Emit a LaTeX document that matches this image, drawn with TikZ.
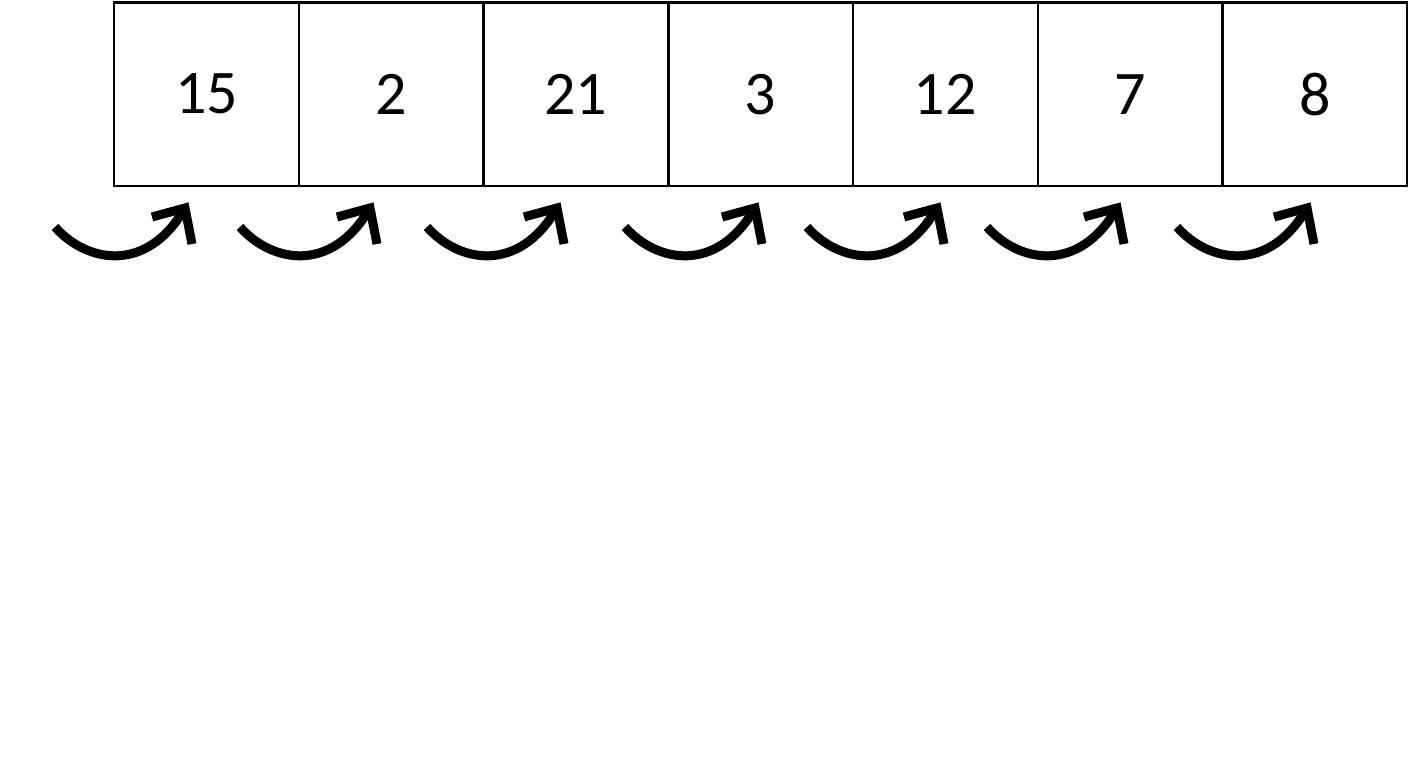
\documentclass[tikz,border=0pt]{standalone}
\usepackage{fontspec}
\setmainfont{Carlito}
\usetikzlibrary{calc}
\begin{document}
\begin{tikzpicture}[x=1pt,y=-1pt,
  cell/.style={draw=black,line width=2.4pt,minimum width=184.7pt,minimum height=183pt,inner sep=0pt,anchor=north west,font=\fontsize{62}{70}\selectfont},
  curv/.style={line width=9pt,black},
  wing/.style={line width=9pt,black,line join=miter,miter limit=10}]
\useasboundingbox (0,0) rectangle (1408,768);
\fill[white] (0,0) rectangle (1408,768);
\foreach \v [count=\i] in {15,2,21,3,12,7,8}{
  \node[cell] (c\i) at ({113+(\i-1)*184.7},1.5) {\v};
}
\foreach \t [count=\i] in {55,240,427,625,807,987,1177}{
  \coordinate (a\i) at (\t,227);
  \coordinate (b\i) at (\t+130,208);
  \draw[curv] (a\i) .. controls ++(32,36) and ++(-38,66) .. (b\i);
  \draw[wing] ($(b\i)+(-33,9)$) -- ($(b\i)+(0,0)$) -- ($(b\i)+(7,36)$);
}
\end{tikzpicture}
\end{document}
